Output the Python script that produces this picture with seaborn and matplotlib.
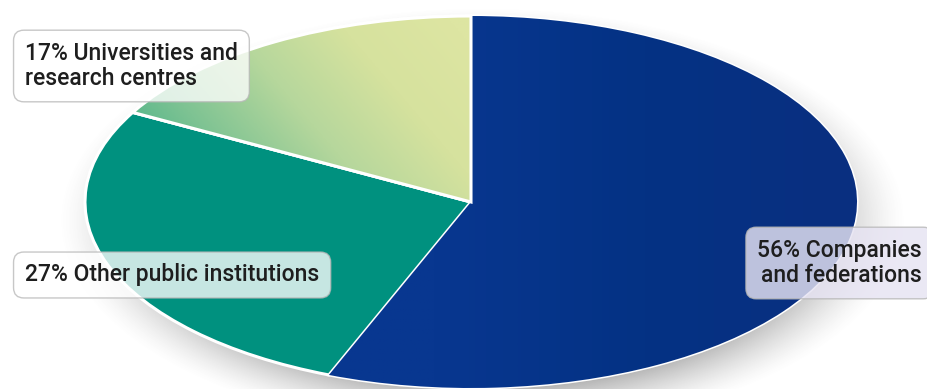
import numpy as np
import matplotlib
matplotlib.use("Agg")
import matplotlib.pyplot as plt
from matplotlib.colors import LinearSegmentedColormap
from matplotlib.patches import Wedge
import seaborn as sns

# Shares of participants by type of organisation (%)
categories = ["Companies\nand federations", "Other public institutions",
              "Universities and\nresearch centres"]
shares = [56, 27, 17]
label_texts = ["56% Companies\nand federations", "27% Other public institutions",
               "17% Universities and\nresearch centres"]

sns.set_theme(style="white")
plt.rcParams["font.family"] = ["Roboto", "Liberation Sans", "DejaVu Sans"]

W, H = 927, 389
fig = plt.figure(figsize=(W / 100, H / 100), dpi=100)
ax = fig.add_axes([0, 0, 1, 1])

# Pixel geometry of the squashed pie
cx, cy, rx, ry = 471, 202, 386, 186
x0, x1 = -cx / rx, (W - cx) / rx
y0, y1 = -(H - cy) / ry, cy / ry

# Soft drop shadow beneath the ellipse
gx = np.linspace(x0, x1, 700)
gy = np.linspace(y0, y1, 350)
GX, GY = np.meshgrid(gx, gy)
d = np.sqrt(((GX - 0.03) / 1.10) ** 2 + ((GY + 0.10) / 1.15) ** 2)
alpha = np.clip((1.0 - d) / 0.24, 0, 1) ** 1.4 * 0.6
shadow = np.zeros(GX.shape + (4,))
shadow[..., :3] = 0.42
shadow[..., 3] = alpha
ax.imshow(shadow, extent=(x0, x1, y0, y1), origin="lower", aspect="auto", zorder=0)

palette = ["#06338a", "#00917f", "#b9d897"]
wedges, _ = ax.pie(shares, colors=palette, startangle=90, counterclock=False,
                   radius=1.0, center=(0, 0), frame=False,
                   wedgeprops=dict(edgecolor="white", linewidth=2.2))
for w in wedges:
    w.set_zorder(2)

# Green-to-yellow gradient on the universities wedge
grad_cmap = LinearSegmentedColormap.from_list(
    "uni", ["#3fae86", "#7ec393", "#b6d79c", "#d6e29e", "#dde5a2"])
t = np.clip(((GX + 0.95) * 0.85 + (GY - 0.3) * 0.35) / 1.0, 0, 1)
im = ax.imshow(t, extent=(x0, x1, y0, y1), origin="lower", aspect="auto",
               cmap=grad_cmap, vmin=0, vmax=1, zorder=2.5)
im.set_clip_path(wedges[2])
ax.add_patch(Wedge((0, 0), 1.0, wedges[2].theta1, wedges[2].theta2,
                   facecolor="none", edgecolor="white", linewidth=2.2, zorder=2.6))

# Subtle shading on the blue wedge
blue_cmap = LinearSegmentedColormap.from_list("blue", ["#083790", "#043284", "#0a2f80"])
tb = np.clip((GX + 0.1) / 1.1, 0, 1)
imb = ax.imshow(tb, extent=(x0, x1, y0, y1), origin="lower", aspect="auto",
                cmap=blue_cmap, vmin=0, vmax=1, zorder=2.4)
imb.set_clip_path(wedges[0])

# Stretch the unit pie into the wide ellipse
ax.set_aspect("auto")
ax.set_xlim(x0, x1)
ax.set_ylim(y0, y1)
ax.axis("off")

box = dict(boxstyle="round,pad=0.5,rounding_size=0.45", facecolor="white",
           edgecolor="#b8b8b8", linewidth=1.0, alpha=0.78)
fs = 16.5
tk = dict(fontsize=fs, color="#1e1e1e", fontweight="medium", zorder=5)
fig.text(25 / W, 1 - 66 / H, label_texts[2], ha="left", va="center",
         linespacing=1.15, bbox=box, **tk)
fig.text(25 / W, 1 - 275 / H, label_texts[1], ha="left", va="center", bbox=box, **tk)
box3 = dict(box, facecolor="#e6e3f2", alpha=0.82)
fig.text(922 / W, 1 - 263 / H, label_texts[0], ha="right", va="center",
         linespacing=1.15, multialignment="right", bbox=box3, **tk)

fig.savefig("out.png", dpi=100)
